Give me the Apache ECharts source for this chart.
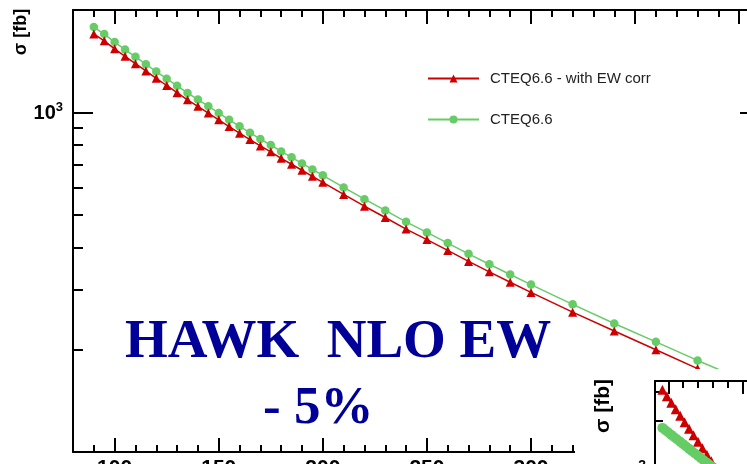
<!DOCTYPE html>
<html><head><meta charset="utf-8">
<script src="https://cdn.jsdelivr.net/npm/echarts@6/dist/echarts.min.js"></script>
<style>html,body{margin:0;padding:0;background:#fff}#c{width:747px;height:464px}</style>
</head><body><div id="c"></div>
<script>
// ---------- main plot data ----------
const mass = [90,95,100,105,110,115,120,125,130,135,140,145,150,155,160,165,170,175,180,185,190,195,200,
              210,220,230,240,250,260,270,280,290,300,320,340,360,380,400];
const sigmaEW = [1701,1623,1537,1461,1390,1323,1259,1199,1142,1088,1041,995,950,908,868,831,796,765,732,703,675,648,622,
                 573,529,490,453,422,392,364,339,316,295,258,227,200,176,156];
const sigmaCTEQ = [1781,1699,1609,1530,1456,1385,1318,1256,1196,1140,1090,1042,995,951,909,871,834,801,767,737,707,679,652,
                   601,555,514,476,443,412,383,357,333,311,272,239,211,186,165];
const seriesNames = ['CTEQ6.6 - with EW corr', 'CTEQ6.6'];
const xMajorTicks = [100,150,200,250,300,350,400];
const xMinorTicks = [90,100,110,120,130,140,150,160,170,180,190,200,210,220,230,240,250,260,270,280,290,300,310,320,330,340,350,360,370,380,390,400];
const yMinorTicks = [200,300,400,500,600,700,800,900];
const annotation1 = 'HAWK  NLO EW';
const annotation2 = '- 5%';
const yTitle = 'σ [fb]';

// ---------- inset data ----------
const insetMassEW = [96,99,102,105,108,111,114,117,120,123,126,129,132,135];
const insetSigmaEW = [3097,2829,2582,2362,2158,1970,1800,1644,1503,1373,1254,1145,1046,956];
const insetMassLO = [96,98,100,102,104,106,108,110,112,114,116,118,120,122,124,126,128,130];
const insetSigmaLO = [1822,1765,1709,1653,1600,1550,1501,1453,1406,1361,1318,1277,1236,1196,1158,1121,1086,1051];
const insetXMajor = [100,150,200];
const insetXMinor = [110,120,130,140,160,170,180,190,210,220];
const insetYMinor = [2000,3000];

const RED = '#cc0000', GREEN = '#66cc66', NAVY = '#000099';
const FONT = '"Liberation Sans", Arial, sans-serif';
const SERIF = '"Liberation Serif", "Times New Roman", serif';

const line2 = {show:true, lineStyle:{color:'#000', width:2}};
const noLine = {show:false};
function tick(len, vals) {
  const t = {show:true, inside:true, length:len, lineStyle:{color:'#000', width:2}};
  if (vals) t.customValues = vals;
  return t;
}
const pow10Rich = (size, sup) => ({
  b:{fontSize:size, fontWeight:'bold', color:'#000', fontFamily:FONT, verticalAlign:'bottom', lineHeight:size+2},
  s:{fontSize:sup, fontWeight:'bold', color:'#000', fontFamily:FONT, verticalAlign:'top', lineHeight:sup}
});
const pow10Fmt = v => (Math.abs(v - 1000) < 1e-3 ? '{b|10}{s|3}' : '');

const chart = echarts.init(document.getElementById('c'), null, {renderer:'canvas', width:747, height:464});
const option = {
  animation:false,
  backgroundColor:'#fff',
  grid:[
    {left:73, top:10, width:687, height:442, containLabel:false, outerBoundsMode:'none'},
    {left:655, top:381, width:206, height:90, containLabel:false, outerBoundsMode:'none'}
  ],
  legend:{
    left:427, top:71, padding:0, orient:'vertical', itemWidth:51, itemHeight:10, itemGap:26,
    data:seriesNames, selectedMode:false,
    textStyle:{fontSize:15, color:'#222', fontFamily:FONT, padding:[0,0,0,6]}
  },
  xAxis:[
    {type:'value', gridIndex:0, min:80, max:410, position:'bottom', axisLine:line2, splitLine:{show:false},
     axisTick:tick(14, xMajorTicks),
     axisLabel:{customValues:xMajorTicks, margin:6, fontSize:21, fontWeight:'bold', color:'#000', fontFamily:FONT}},
    {type:'value', gridIndex:0, min:80, max:410, position:'bottom', axisLine:noLine, splitLine:{show:false},
     axisTick:tick(7, xMinorTicks), axisLabel:{show:false}},
    {type:'value', gridIndex:0, min:80, max:410, position:'top', axisLine:line2, splitLine:{show:false},
     axisTick:tick(14, xMajorTicks), axisLabel:{show:false}},
    {type:'value', gridIndex:0, min:80, max:410, position:'top', axisLine:noLine, splitLine:{show:false},
     axisTick:tick(7, xMinorTicks), axisLabel:{show:false}},
    // inset
    {type:'value', gridIndex:1, min:91, max:230, position:'bottom', show:false},
    {type:'value', gridIndex:1, min:91, max:230, position:'top', axisLine:line2, splitLine:{show:false}, z:60,
     axisTick:tick(13, insetXMajor), axisLabel:{show:false}},
    {type:'value', gridIndex:1, min:91, max:230, position:'top', axisLine:noLine, splitLine:{show:false}, z:60,
     axisTick:tick(7, insetXMinor), axisLabel:{show:false}}
  ],
  yAxis:[
    {type:'log', logBase:10, gridIndex:0, min:100, max:2000, position:'left', axisLine:line2,
     splitLine:{show:false}, minorTick:{show:false}, axisTick:tick(20),
     axisLabel:{margin:10, formatter:pow10Fmt, rich:pow10Rich(20, 13)}},
    {type:'value', gridIndex:0, min:2, max:Math.log10(2000), position:'left', axisLine:noLine,
     splitLine:{show:false}, axisTick:tick(10, yMinorTicks.map(Math.log10)), axisLabel:{show:false}},
    {type:'log', logBase:10, gridIndex:0, min:100, max:2000, position:'right', axisLine:line2,
     splitLine:{show:false}, axisTick:tick(20), axisLabel:{show:false}},
    // inset
    {type:'log', logBase:10, gridIndex:1, min:1000, max:3500, position:'left', axisLine:line2, z:60,
     splitLine:{show:false}, minorTick:{show:false}, axisTick:tick(14),
     axisLabel:{margin:9, formatter:pow10Fmt, rich:pow10Rich(21, 14)}},
    {type:'value', gridIndex:1, min:3, max:Math.log10(3500), position:'left', axisLine:noLine, z:60,
     splitLine:{show:false}, axisTick:tick(8, insetYMinor.map(Math.log10)), axisLabel:{show:false}}
  ],
  series:[
    {name:seriesNames[0], type:'line', xAxisIndex:0, yAxisIndex:0, z:3,
     data:mass.map((m,i)=>[m, sigmaEW[i]]), symbol:'triangle', symbolSize:9,
     lineStyle:{color:RED, width:1.5}, itemStyle:{color:RED}},
    {name:seriesNames[1], type:'line', xAxisIndex:0, yAxisIndex:0, z:2,
     data:mass.map((m,i)=>[m, sigmaCTEQ[i]]), symbol:'circle', symbolSize:8.5,
     lineStyle:{color:GREEN, width:1.5}, itemStyle:{color:GREEN}},
    {name:seriesNames[0], type:'line', xAxisIndex:4, yAxisIndex:3, z:60,
     data:insetMassEW.map((m,i)=>[m, insetSigmaEW[i]]), symbol:'triangle', symbolSize:10,
     lineStyle:{color:RED, width:1.5}, itemStyle:{color:RED}},
    {name:seriesNames[1], type:'line', xAxisIndex:4, yAxisIndex:3, z:60,
     data:insetMassLO.map((m,i)=>[m, insetSigmaLO[i]]), symbol:'circle', symbolSize:10,
     lineStyle:{color:GREEN, width:1.5}, itemStyle:{color:GREEN}}
  ],
  graphic:[
    {type:'rect', z:50, silent:true, shape:{x:575, y:369, width:180, height:100}, style:{fill:'#fff'}},
    {type:'text', z:100, x:21, y:32, rotation:Math.PI/2,
     style:{text:yTitle, font:'bold 18px ' + FONT, fill:'#000', align:'center', verticalAlign:'middle'}},
    {type:'text', z:100, x:603, y:406, rotation:Math.PI/2,
     style:{text:yTitle, font:'bold 21px ' + FONT, fill:'#000', align:'center', verticalAlign:'middle'}},
    {type:'text', z:100, x:125, y:343,
     style:{text:annotation1, font:'bold 55px ' + SERIF, fill:NAVY, align:'left', verticalAlign:'middle'}},
    {type:'text', z:100, x:263, y:409,
     style:{text:annotation2, font:'bold 53px ' + SERIF, fill:NAVY, align:'left', verticalAlign:'middle'}}
  ]
};
chart.setOption(option);
</script></body></html>
